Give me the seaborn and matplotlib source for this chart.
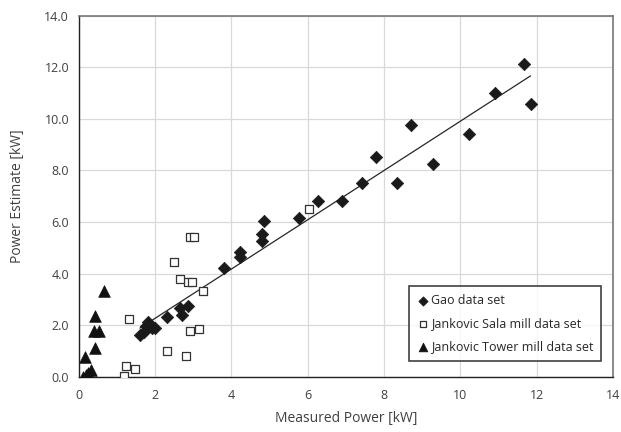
import matplotlib
matplotlib.use("Agg")
import matplotlib.pyplot as plt
import seaborn as sns
import numpy as np
import pandas as pd

# Gao data set (diamonds)
gao_x = [1.60, 1.70, 1.75, 1.82, 1.91, 2.00, 2.30, 2.65, 2.71, 2.85, 3.81, 4.23, 4.23,
         4.81, 4.81, 4.85, 5.78, 6.26, 6.91, 7.43, 7.79, 8.34, 8.70, 9.29, 10.24, 10.90,
         11.66, 11.84]
gao_y = [1.63, 1.75, 1.95, 2.12, 1.88, 1.90, 2.33, 2.65, 2.38, 2.73, 4.22, 4.84, 4.63,
         5.52, 5.26, 6.03, 6.16, 6.80, 6.80, 7.50, 8.53, 7.51, 9.74, 8.26, 9.40, 10.99,
         12.12, 10.58]

# Jankovic Sala mill data set (open squares)
sala_x = [1.18, 1.23, 1.46, 1.32, 2.31, 2.82, 2.91, 3.16, 3.26, 2.87, 2.97, 2.65,
          2.50, 2.92, 3.02, 6.02]
sala_y = [0.03, 0.40, 0.30, 2.23, 1.01, 0.79, 1.78, 1.84, 3.31, 3.67, 3.67, 3.79,
          4.46, 5.43, 5.43, 6.50]

# Jankovic Tower mill data set (triangles)
tower_x = [0.12, 0.18, 0.23, 0.31, 0.17, 0.42, 0.40, 0.52, 0.41, 0.65]
tower_y = [0.00, 0.05, 0.13, 0.26, 0.76, 1.13, 1.77, 1.77, 2.37, 3.32]

sns.set_style("white")
plt.rcParams["font.family"] = ["Open Sans", "DejaVu Sans"]

fig = plt.figure(figsize=(6.21, 4.32), dpi=100)
ax = fig.add_axes([0.127, 0.128, 0.86, 0.836])

ax.grid(True, color="#d9d9d9", linewidth=0.9)
ax.set_axisbelow(True)

# linear trendline of the Gao data
sns.regplot(x=np.array(gao_x), y=np.array(gao_y), scatter=False, ci=None,
            color="#262626", line_kws={"linewidth": 0.9}, ax=ax)

sns.scatterplot(x=gao_x, y=gao_y, marker="D", s=40, color="#1a1a1a",
                edgecolor="#1a1a1a", linewidth=0.5, ax=ax, label="Gao data set", zorder=3)
sns.scatterplot(x=sala_x, y=sala_y, marker="s", s=30, facecolor="white",
                edgecolor="#333333", linewidth=0.9, ax=ax,
                label="Jankovic Sala mill data set", zorder=3)
sns.scatterplot(x=tower_x, y=tower_y, marker="^", s=70, color="#111111",
                edgecolor="#111111", linewidth=0.5, ax=ax,
                label="Jankovic Tower mill data set", zorder=4)

ax.set_xlim(0, 14)
ax.set_ylim(0, 14)
ax.set_xticks(range(0, 15, 2))
ax.set_yticks(range(0, 15, 2))
ax.set_yticklabels([f"{v:.1f}" for v in range(0, 15, 2)])
ax.tick_params(axis="both", labelsize=9, colors="#404040", length=0)
ax.tick_params(axis="x", pad=9)
ax.tick_params(axis="y", pad=7)
ax.set_xlabel("Measured Power [kW]", fontsize=10, color="#404040", labelpad=6)
ax.set_ylabel("Power Estimate [kW]", fontsize=10, color="#404040", labelpad=14)

for side in ["left", "bottom"]:
    ax.spines[side].set_color("#222222")
    ax.spines[side].set_linewidth(1.0)
for side in ["top", "right"]:
    ax.spines[side].set_visible(True)
    ax.spines[side].set_color("#777777")
    ax.spines[side].set_linewidth(1.2)

leg = ax.legend(loc="lower right", bbox_to_anchor=(0.99, 0.025), fontsize=9,
                frameon=True, fancybox=False, edgecolor="#111111",
                handletextpad=0.1, handlelength=1.0, borderpad=0.65,
                labelspacing=0.8, markerscale=0.75)
leg.get_frame().set_linewidth(1.2)
for t in leg.get_texts():
    t.set_color("#262626")

plt.savefig("out.png", dpi=100)
plt.close()
